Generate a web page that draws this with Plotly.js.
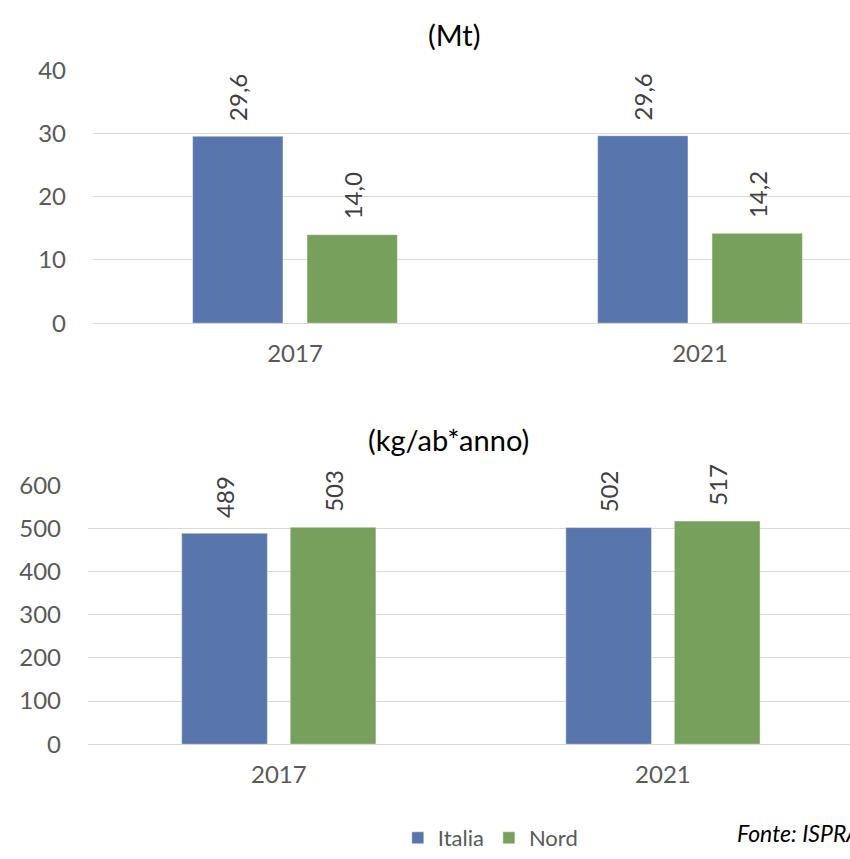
<!DOCTYPE html>
<html>
<head>
<meta charset="utf-8">
<script src="https://cdn.plot.ly/plotly-3.0.1.min.js"></script>
<style>html,body{margin:0;padding:0;background:#fff;}#chart{width:850px;height:859px;}</style>
</head>
<body>
<div id="chart"></div>
<script>
// Data
const years = ['2017', '2021'];
const italiaMt = [29.56, 29.64];
const nordMt = [14.0, 14.2];
const italiaKg = [489, 502];
const nordKg = [503, 517];
const seriesNames = ['Italia', 'Nord'];
const titleTop = '(Mt)';
const titleBottom = '(kg/ab*anno)';
const sourceText = 'Fonte: ISPRA';

const FONT = 'Lato, "Open Sans", sans-serif';
const BLUE = '#5876AC';
const GREEN = '#76A05B';

function barTrace(name, y, color, xa, ya, fmt, show) {
  return {
    type: 'bar', name: name, x: years, y: y, xaxis: xa, yaxis: ya,
    marker: {color: color, line: {color: 'rgba(255,255,255,0.45)', width: 1}},
    texttemplate: '\u00A0\u00A0%{y:' + fmt + '}',
    textposition: 'outside', textangle: -90, cliponaxis: false,
    textfont: {family: FONT, size: 24, color: '#404040'},
    legendgroup: name, showlegend: show, hoverinfo: 'skip'
  };
}

const data = [
  barTrace(seriesNames[0], italiaMt, BLUE, 'x', 'y', '.1f', true),
  barTrace(seriesNames[1], nordMt, GREEN, 'x', 'y', '.1f', true),
  barTrace(seriesNames[0], italiaKg, BLUE, 'x2', 'y2', '.0f', false),
  barTrace(seriesNames[1], nordKg, GREEN, 'x2', 'y2', '.0f', false)
];

const tickFont = {family: FONT, size: 24, color: '#595959'};
const yCommon = {
  showgrid: true, gridcolor: '#D9D9D9', gridwidth: 1,
  zeroline: true, zerolinecolor: '#D9D9D9', zerolinewidth: 1,
  showline: false, ticks: '', tickfont: tickFont, ticklabelstandoff: 26,
  fixedrange: true
};
const xCommon = {
  type: 'category', showgrid: false, zeroline: false, showline: false,
  ticks: '', tickfont: tickFont, ticklabelstandoff: 14, fixedrange: true
};

const layout = {
  width: 850, height: 859,
  margin: {l: 0, r: 0, t: 0, b: 0},
  paper_bgcolor: '#fff', plot_bgcolor: 'rgba(0,0,0,0)',
  separators: ',.',
  barmode: 'group', bargap: 0.435, bargroupgap: 0.21,
  font: {family: FONT, color: '#595959'},
  xaxis: Object.assign({}, xCommon, {domain: [93/850, 1], range: [-0.4988, 1.3704], anchor: 'y'}),
  yaxis: Object.assign({}, yCommon, {domain: [1 - 327/859, 1 - 71/859], range: [0, 40], dtick: 10, anchor: 'x'}),
  xaxis2: Object.assign({}, xCommon, {domain: [88/850, 1], range: [-0.4967, 1.487], anchor: 'y2'}),
  yaxis2: Object.assign({}, yCommon, {domain: [1 - 753/859, 1 - 491/859], range: [0, 600], dtick: 100, anchor: 'x2'}),
  showlegend: true,
  legend: {
    orientation: 'h', x: 0.468, xanchor: 'left', y: 1 - 848/859, yanchor: 'middle',
    font: {family: FONT, size: 22, color: '#595959'}, itemwidth: 30,
    bgcolor: 'rgba(0,0,0,0)', traceorder: 'normal'
  },
  annotations: [
    {text: titleTop, xref: 'paper', yref: 'paper', x: 454/850, y: 1 - 35/859,
     xanchor: 'center', yanchor: 'middle', showarrow: false,
     font: {family: FONT, size: 29, color: '#000'}},
    {text: titleBottom, xref: 'paper', yref: 'paper', x: 449/850, y: 1 - 445/859,
     xanchor: 'center', yanchor: 'middle', showarrow: false,
     font: {family: FONT, size: 29, color: '#000'}},
    {text: '<i>' + sourceText + '</i>', xref: 'paper', yref: 'paper', x: 735/850, y: 1 - 843/859,
     xanchor: 'left', yanchor: 'middle', showarrow: false,
     font: {family: FONT, size: 23, color: '#000'}}
  ]
};

Plotly.newPlot('chart', data, layout, {displayModeBar: false, staticPlot: true});
</script>
</body>
</html>
